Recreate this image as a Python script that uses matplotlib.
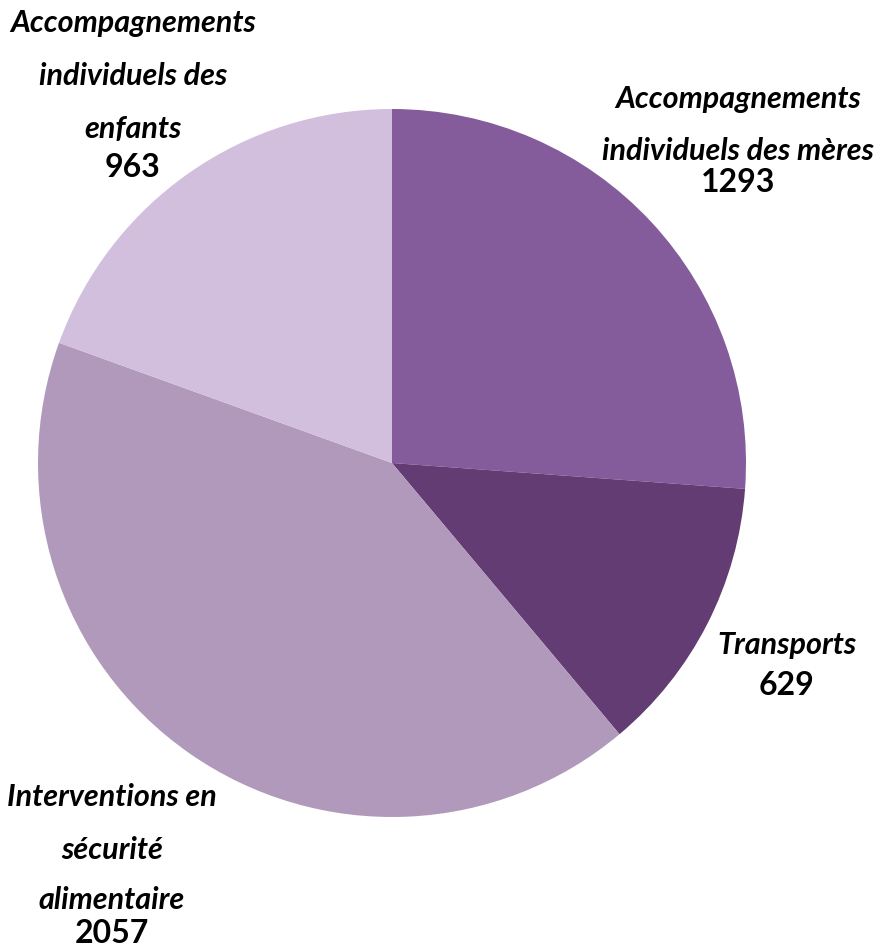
import matplotlib.pyplot as plt

categories = [["Accompagnements", "individuels des mères"], ["Transports"],
              ["Interventions en", "sécurité", "alimentaire"],
              ["Accompagnements", "individuels des", "enfants"]]
values = [1293, 629, 2057, 963]
colors = ["#855C9B", "#623C72", "#B199BC", "#D2BEDD"]

W, H = 879, 948
fig = plt.figure(figsize=(W / 100, H / 100), dpi=100)
ax = fig.add_axes([0, 0, 1, 1])

ax.pie(values, colors=colors, startangle=90, counterclock=False,
       center=(392, H - 463), radius=354, frame=True)
ax.set_xlim(0, W)
ax.set_ylim(0, H)
ax.set_aspect("equal")
ax.axis("off")

# label x centre, baselines of the label lines, baseline of the number (px from top)
label_x = [738, 787, 112, 133]
line_base = [[108, 160], [654], [806, 859, 909], [32, 85, 138]]
num_base = [192, 695, 943, 177]

for lines, v, x, bases, nb in zip(categories, values, label_x, line_base, num_base):
    for txt, b in zip(lines, bases):
        ax.text(x, H - b, txt, ha="center", va="baseline", fontsize=22,
                family="Lato", weight="bold", style="italic")
    ax.text(x, H - nb, f"{v}", ha="center", va="baseline", fontsize=23,
            family="Lato", weight="bold")

fig.savefig("out.png", dpi=100)
